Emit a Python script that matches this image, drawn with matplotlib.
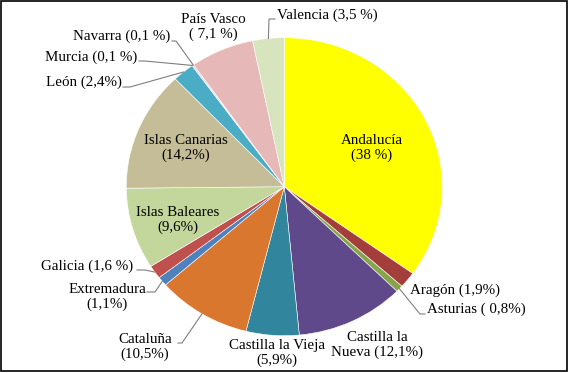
import numpy as np
import matplotlib
matplotlib.use('Agg')
import matplotlib.pyplot as plt
from matplotlib.patches import Rectangle

plt.rcParams['font.family'] = 'serif'
plt.rcParams['font.serif'] = ['Liberation Serif', 'Times New Roman', 'DejaVu Serif']

regions = ['Andalucía', 'Aragón', 'Asturias', 'Castilla la Nueva', 'Castilla la Vieja',
           'Cataluña', 'Extremadura', 'Galicia', 'Islas Baleares', 'Islas Canarias',
           'León', 'Murcia', 'Navarra', 'País Vasco', 'Valencia']
shares = [38, 1.9, 0.8, 12.1, 5.9, 10.5, 1.1, 1.6, 9.6, 14.2, 2.4, 0.1, 0.1, 7.1, 3.5]
labels = ['Andalucía\n(38 %)', 'Aragón (1,9%)', 'Asturias ( 0,8%)', 'Castilla la\nNueva (12,1%)',
          'Castilla la Vieja\n(5,9%)', 'Cataluña\n(10,5%)', 'Extremadura\n(1,1%)', 'Galicia (1,6 %)',
          'Islas Baleares\n(9,6%)', 'Islas Canarias\n(14,2%)', 'León (2,4%)', 'Murcia (0,1 %)',
          'Navarra (0,1 %)', 'País Vasco\n( 7,1 %)', 'Valencia (3,5 %)']
colors = ['#FFFF00', '#A33E3B', '#86A54A', '#60498A', '#31859C', '#DA772F', '#4F81BD',
          '#C0504D', '#C3D69B', '#C4BD97', '#4BACC6', '#F79646', '#8064A2', '#E6B9B8', '#D7E4BD']

# layout (pixels): pie centre and radii, label anchor / alignment, leader elbows
W, H = 569, 373
cx, cy, rx, ry = 284.3, 186.7, 158, 149
label_pos = {
    'Andalucía': (372, 148, 'center'),
    'Aragón': (410, 290, 'left'),
    'Asturias': (427, 309, 'left'),
    'Castilla la Nueva': (377, 345, 'center'),
    'Castilla la Vieja': (277, 353, 'center'),
    'Cataluña': (145, 347, 'center'),
    'Extremadura': (146, 297, 'right'),
    'Galicia': (133, 266, 'right'),
    'Islas Baleares': (178, 220, 'center'),
    'Islas Canarias': (186, 148, 'center'),
    'León': (122, 82, 'right'),
    'Murcia': (137, 57, 'right'),
    'Navarra': (170, 36, 'right'),
    'País Vasco': (213, 27, 'center'),
    'Valencia': (277, 15, 'left'),
}
leaders = {
    'Valencia': [(275, 19), (269, 19)],
    'Navarra': [(172, 41), (176, 41)],
    'Murcia': [(139, 61), (145, 61)],
    'León': [(123, 87), (130, 87)],
    'Galicia': [(137, 270), (145, 270)],
    'Extremadura': [(147, 292), (155, 292)],
    'Cataluña': [(178, 343), (182, 343)],
    'Asturias': [(425, 314), (420, 314)],
}

fig = plt.figure(figsize=(W / 100, H / 100), dpi=100)
fig.patch.set_facecolor('white')

ax = fig.add_axes([(cx - rx) / W, 1 - (cy + ry) / H, 2 * rx / W, 2 * ry / H])
wedges, _ = ax.pie(shares, colors=colors, startangle=90, counterclock=False,
                   wedgeprops=dict(edgecolor='white', linewidth=0.4))
ax.set_aspect('auto')
ax.set_xlim(-1, 1)
ax.set_ylim(-1, 1)
ax.axis('off')

ov = fig.add_axes([0, 0, 1, 1])
ov.set_xlim(0, W)
ov.set_ylim(H, 0)
ov.axis('off')
ov.patch.set_alpha(0)

for name, lab, w in zip(regions, labels, wedges):
    x, y, ha = label_pos[name]
    ov.text(x, y, lab, ha=ha, va='center', multialignment='center', fontsize=10.8,
            color='black', linespacing=1.15)
    if name in leaders:
        mid = np.deg2rad((w.theta1 + w.theta2) / 2)
        px = cx + rx * np.cos(mid)
        py = cy - ry * np.sin(mid)
        pts = leaders[name] + [(px, py)]
        ov.plot([p[0] for p in pts], [p[1] for p in pts], color='#7F7F7F', lw=0.8)

ov.add_patch(Rectangle((0.7, 0.7), W - 3, H - 2.4, fill=False, edgecolor='black',
                       lw=1.2, clip_on=False))

plt.savefig('out.png', dpi=100, facecolor='w')
